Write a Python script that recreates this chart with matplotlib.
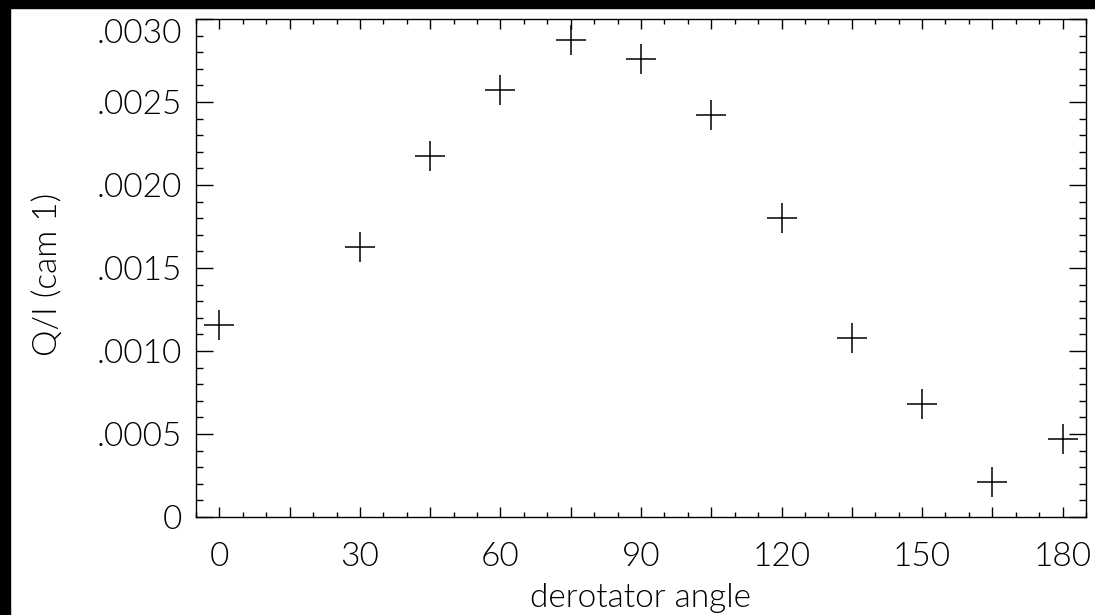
import matplotlib
matplotlib.use('Agg')
import matplotlib.pyplot as plt
from matplotlib.patches import Rectangle
from matplotlib.ticker import MultipleLocator, FuncFormatter

# derotator angle (deg) and Q/I for camera 1
angle = [0, 30, 45, 60, 75, 90, 105, 120, 135, 150, 165, 180]
q_over_i = [0.001157, 0.001628, 0.002177, 0.002570, 0.002873, 0.002757,
            0.002422, 0.001800, 0.001077, 0.000681, 0.000213, 0.000470]

plt.rcParams['font.family'] = ['Lato', 'DejaVu Sans']
plt.rcParams['font.weight'] = 300
plt.rcParams['axes.labelweight'] = 300
plt.rcParams['text.color'] = 'black'

fig = plt.figure(figsize=(10.95, 6.15), dpi=100)
fig.patch.set_facecolor('white')
# black strips along top and left edges
fig.patches.append(Rectangle((0, 1 - 8 / 615), 1, 8 / 615, transform=fig.transFigure,
                             color='black', zorder=0))
fig.patches.append(Rectangle((0, 0), 10 / 1095, 1, transform=fig.transFigure,
                             color='black', zorder=0))

ax = fig.add_axes([196 / 1095, 98 / 615, 890 / 1095, 498 / 615])
ax.plot(angle, q_over_i, ls='none', marker='+', ms=22, mew=1.1, color='black')

ax.set_xlim(-5, 185)
ax.set_ylim(0, 0.003)

ax.xaxis.set_major_locator(MultipleLocator(15))
ax.xaxis.set_minor_locator(MultipleLocator(5))
ax.yaxis.set_major_locator(MultipleLocator(0.0005))
ax.yaxis.set_minor_locator(MultipleLocator(0.0001))


def xfmt(v, pos):
    v = int(round(v))
    return str(v) if v % 30 == 0 else ''


def yfmt(v, pos):
    if abs(v) < 1e-9:
        return '0'
    return ('%.4f' % v)[1:]


ax.xaxis.set_major_formatter(FuncFormatter(xfmt))
ax.yaxis.set_major_formatter(FuncFormatter(yfmt))

ax.tick_params(which='both', direction='in', top=True, right=True, width=1.0,
               colors='black', labelsize=24)
ax.tick_params(axis='x', which='major', length=7.2, pad=18)
ax.tick_params(axis='x', which='minor', length=3.6)
ax.tick_params(axis='y', which='major', length=12.5, pad=10)
ax.tick_params(axis='y', which='minor', length=5)
for s in ax.spines.values():
    s.set_linewidth(1.0)

ax.set_xlabel('derotator angle', fontsize=24)
ax.set_ylabel('Q/I (cam 1)', fontsize=24)
ax.xaxis.label.set_va('center')
ax.yaxis.label.set_va('center')
ax.xaxis.set_label_coords(0.5, -0.163)
ax.yaxis.set_label_coords(-0.167, 0.488)

# the top y label hangs below its tick, as in the original
fig.canvas.draw()
for lbl in ax.get_yticklabels():
    if lbl.get_text() == '.0030':
        lbl.set_va('top')

fig.savefig('out.png', dpi=100)
